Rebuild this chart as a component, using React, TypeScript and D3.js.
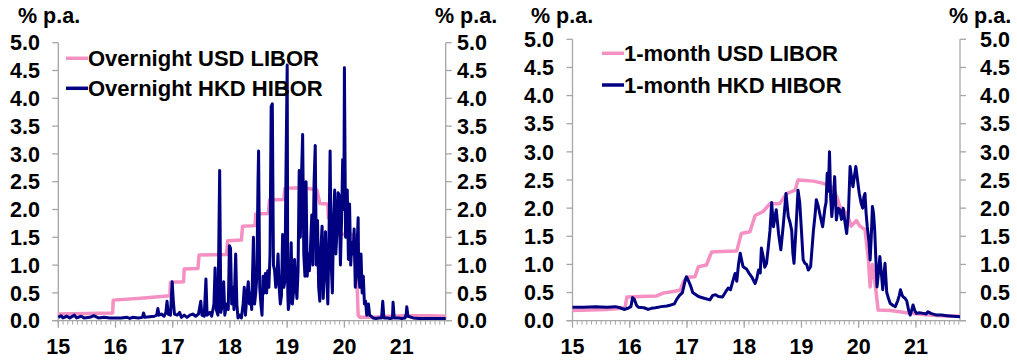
import React from "react";
import * as d3 from "d3";

type Pt = [number, number];

const yTicks = [0, 0.5, 1, 1.5, 2, 2.5, 3, 3.5, 4, 4.5, 5];
const yearTicks = [15, 16, 17, 18, 19, 20, 21];
const yearLabels = ["15", "16", "17", "18", "19", "20", "21"];
const unitLabel = "% p.a.";

const leftLegend = ["Overnight USD LIBOR", "Overnight HKD HIBOR"];
const rightLegend = ["1-month USD LIBOR", "1-month HKD HIBOR"];

const onLibor: Pt[] = [
  [15.0, 0.12], [15.5, 0.13], [15.95, 0.14], [15.96, 0.37], [16.5, 0.41], [16.95, 0.45],
  [16.96, 0.69], [17.19, 0.7], [17.2, 0.93], [17.44, 0.94], [17.46, 1.18], [17.94, 1.19],
  [17.96, 1.44], [18.2, 1.45], [18.22, 1.7], [18.44, 1.71], [18.45, 1.92], [18.67, 1.93],
  [18.69, 2.17], [18.94, 2.18], [18.96, 2.38], [19.3, 2.39], [19.52, 2.35], [19.57, 2.11],
  [19.71, 2.1], [19.72, 1.85], [19.83, 1.85], [19.84, 1.56], [20.17, 1.55], [20.18, 1.08],
  [20.21, 1.0], [20.24, 0.1], [20.27, 0.06], [20.5, 0.06], [20.8, 0.08], [21.0, 0.09],
  [21.5, 0.09], [21.77, 0.08],
];

const onHibor: Pt[] = [
  [15.0, 0.06], [15.05, 0.09], [15.08, 0.05], [15.15, 0.08], [15.2, 0.05], [15.28, 0.1], [15.32, 0.05],
  [15.4, 0.08], [15.45, 0.05], [15.55, 0.06], [15.62, 0.09], [15.7, 0.05], [15.8, 0.06], [15.9, 0.05],
  [16.0, 0.05], [16.1, 0.05], [16.2, 0.06], [16.25, 0.04], [16.3, 0.06], [16.4, 0.05], [16.47, 0.06],
  [16.49, 0.14], [16.51, 0.06], [16.6, 0.07], [16.68, 0.08], [16.72, 0.1], [16.74, 0.22], [16.76, 0.1],
  [16.8, 0.12], [16.85, 0.08], [16.88, 0.15], [16.9, 0.35], [16.92, 0.12], [16.96, 0.1], [16.99, 0.7],
  [17.01, 0.35], [17.03, 0.12], [17.08, 0.1], [17.12, 0.15], [17.15, 0.06], [17.2, 0.1], [17.25, 0.06],
  [17.3, 0.1], [17.35, 0.12], [17.4, 0.08], [17.45, 0.12], [17.49, 0.35], [17.51, 0.1], [17.55, 0.08],
  [17.58, 0.75], [17.6, 0.1], [17.65, 0.15], [17.68, 0.08], [17.72, 0.3], [17.74, 0.95], [17.76, 0.2],
  [17.79, 0.1], [17.82, 2.7], [17.84, 0.15], [17.87, 0.3], [17.89, 0.7], [17.91, 0.1], [17.94, 0.3],
  [17.97, 0.2], [17.99, 1.35], [18.01, 1.3], [18.03, 0.3], [18.05, 0.6], [18.07, 0.2], [18.1, 1.2],
  [18.12, 0.3], [18.14, 0.05], [18.17, 0.1], [18.2, 0.05], [18.23, 0.3], [18.25, 0.6], [18.27, 0.1],
  [18.3, 0.5], [18.32, 0.7], [18.34, 0.3], [18.36, 0.5], [18.38, 0.2], [18.41, 1.5], [18.43, 0.3],
  [18.45, 0.5], [18.47, 0.8], [18.49, 2.5], [18.5, 3.05], [18.52, 0.6], [18.54, 0.3], [18.56, 0.1],
  [18.58, 0.8], [18.6, 0.5], [18.62, 0.85], [18.64, 0.5], [18.66, 0.9], [18.68, 0.6], [18.7, 1.2],
  [18.72, 3.85], [18.74, 3.9], [18.76, 1.0], [18.78, 0.9], [18.8, 0.6], [18.82, 0.8], [18.84, 1.2],
  [18.86, 0.6], [18.88, 0.3], [18.9, 0.45], [18.92, 1.55], [18.94, 0.6], [18.96, 0.7], [18.98, 2.8],
  [19.0, 4.6], [19.01, 0.5], [19.02, 0.2], [19.04, 0.35], [19.07, 1.4], [19.09, 0.3], [19.11, 0.5],
  [19.13, 1.1], [19.15, 0.7], [19.17, 0.4], [19.19, 0.9], [19.21, 2.7], [19.23, 1.5], [19.25, 2.6],
  [19.27, 3.35], [19.29, 1.2], [19.31, 0.8], [19.33, 2.5], [19.35, 0.8], [19.37, 1.2], [19.39, 0.9],
  [19.41, 1.4], [19.43, 1.9], [19.45, 1.0], [19.47, 2.5], [19.49, 3.15], [19.51, 1.0], [19.53, 1.8],
  [19.55, 0.6], [19.57, 0.35], [19.59, 1.3], [19.61, 1.7], [19.63, 0.4], [19.65, 1.0], [19.67, 1.6],
  [19.69, 0.8], [19.71, 0.3], [19.73, 1.5], [19.75, 3.05], [19.77, 1.0], [19.79, 0.5], [19.81, 1.8],
  [19.83, 2.35], [19.85, 1.2], [19.87, 1.6], [19.89, 2.3], [19.91, 2.25], [19.93, 1.0], [19.95, 1.8],
  [19.97, 2.9], [19.99, 2.0], [20.0, 4.55], [20.02, 1.5], [20.03, 2.0], [20.05, 2.35], [20.07, 1.1],
  [20.09, 2.1], [20.11, 1.0], [20.13, 1.4], [20.15, 1.2], [20.17, 1.65], [20.19, 0.6], [20.21, 1.0],
  [20.24, 1.85], [20.25, 0.8], [20.27, 0.6], [20.29, 1.2], [20.31, 0.5], [20.33, 0.8], [20.35, 0.3],
  [20.37, 0.35], [20.39, 0.1], [20.42, 0.3], [20.44, 0.1], [20.47, 0.08], [20.5, 0.05], [20.55, 0.04],
  [20.6, 0.05], [20.65, 0.05], [20.67, 0.35], [20.69, 0.05], [20.75, 0.05], [20.8, 0.04], [20.84, 0.05],
  [20.85, 0.33], [20.87, 0.05], [20.95, 0.05], [21.0, 0.04], [21.06, 0.05], [21.08, 0.12], [21.09, 0.25],
  [21.11, 0.08], [21.2, 0.05], [21.3, 0.04], [21.45, 0.04], [21.6, 0.04], [21.77, 0.04],
];

const m1Libor: Pt[] = [
  [15.0, 0.18], [15.3, 0.19], [15.6, 0.2], [15.85, 0.22], [15.92, 0.24], [15.95, 0.42], [16.2, 0.43],
  [16.47, 0.44], [16.58, 0.49], [16.76, 0.52], [16.88, 0.54], [16.94, 0.7], [17.0, 0.77], [17.14, 0.78],
  [17.2, 0.96], [17.34, 0.99], [17.43, 1.22], [17.6, 1.23], [17.87, 1.24], [17.95, 1.55], [18.1, 1.58],
  [18.19, 1.87], [18.33, 1.94], [18.45, 2.08], [18.62, 2.08], [18.74, 2.26], [18.89, 2.32], [18.94, 2.5],
  [19.21, 2.48], [19.38, 2.44], [19.53, 2.38], [19.62, 2.2], [19.67, 2.03], [19.79, 1.91], [19.87, 1.68],
  [19.96, 1.78], [20.02, 1.68], [20.11, 1.62], [20.17, 1.08], [20.2, 0.6], [20.24, 1.0], [20.28, 0.72],
  [20.34, 0.19], [20.55, 0.18], [20.84, 0.14], [21.13, 0.11], [21.42, 0.09], [21.77, 0.08],
];

const m1Hibor: Pt[] = [
  [15.0, 0.24], [15.2, 0.24], [15.4, 0.25], [15.6, 0.24], [15.75, 0.25], [15.83, 0.23], [15.9, 0.2],
  [15.97, 0.22], [16.02, 0.25], [16.05, 0.41], [16.08, 0.38], [16.12, 0.27], [16.15, 0.24], [16.25, 0.23],
  [16.32, 0.2], [16.38, 0.22], [16.45, 0.23], [16.55, 0.25], [16.65, 0.26], [16.72, 0.28], [16.78, 0.3],
  [16.82, 0.38], [16.87, 0.45], [16.92, 0.5], [16.97, 0.72], [16.99, 0.78], [17.03, 0.7], [17.07, 0.6],
  [17.1, 0.5], [17.2, 0.43], [17.3, 0.4], [17.4, 0.37], [17.45, 0.45], [17.5, 0.46], [17.55, 0.43],
  [17.62, 0.42], [17.68, 0.52], [17.72, 0.58], [17.76, 0.55], [17.8, 0.7], [17.84, 0.84], [17.87, 0.7],
  [17.9, 1.0], [17.93, 1.2], [17.96, 1.05], [17.98, 0.96], [18.04, 0.92], [18.08, 0.85], [18.13, 0.78],
  [18.19, 0.66], [18.22, 0.75], [18.25, 0.9], [18.28, 0.85], [18.3, 1.29], [18.33, 1.15], [18.36, 0.95],
  [18.39, 1.02], [18.42, 1.3], [18.45, 1.6], [18.48, 2.1], [18.51, 1.67], [18.54, 1.85], [18.56, 1.97],
  [18.6, 1.55], [18.64, 1.26], [18.68, 1.67], [18.73, 2.26], [18.77, 1.85], [18.8, 1.75], [18.83, 1.6],
  [18.85, 1.2], [18.87, 1.02], [18.9, 1.55], [18.94, 2.32], [18.97, 2.1], [19.0, 1.6], [19.03, 1.08],
  [19.06, 1.02], [19.09, 1.0], [19.12, 0.9], [19.16, 0.96], [19.21, 1.61], [19.24, 1.9], [19.26, 2.15],
  [19.29, 2.05], [19.32, 1.9], [19.37, 1.67], [19.41, 2.0], [19.43, 2.1], [19.45, 2.62], [19.47, 2.3],
  [19.49, 3.0], [19.51, 2.2], [19.53, 1.85], [19.56, 2.2], [19.58, 2.56], [19.61, 1.79], [19.64, 2.0],
  [19.67, 1.97], [19.7, 1.8], [19.73, 2.0], [19.76, 1.75], [19.79, 1.55], [19.82, 1.9], [19.85, 2.74],
  [19.88, 2.5], [19.9, 2.38], [19.93, 2.6], [19.95, 2.74], [19.98, 2.5], [20.01, 2.26], [20.04, 2.1],
  [20.07, 2.0], [20.09, 2.2], [20.11, 2.26], [20.13, 1.9], [20.15, 1.67], [20.18, 1.4], [20.2, 1.08],
  [20.22, 1.5], [20.24, 2.03], [20.26, 1.9], [20.28, 1.6], [20.3, 1.1], [20.32, 0.6], [20.35, 0.9],
  [20.37, 1.14], [20.4, 0.8], [20.42, 0.55], [20.44, 0.8], [20.46, 1.02], [20.49, 0.5], [20.52, 0.4],
  [20.55, 0.31], [20.6, 0.27], [20.64, 0.25], [20.68, 0.35], [20.71, 0.45], [20.73, 0.55], [20.76, 0.45],
  [20.78, 0.42], [20.81, 0.4], [20.84, 0.35], [20.87, 0.2], [20.9, 0.1], [20.93, 0.2], [20.95, 0.28],
  [20.98, 0.18], [21.01, 0.13], [21.06, 0.14], [21.13, 0.13], [21.18, 0.12], [21.21, 0.16], [21.26, 0.13],
  [21.36, 0.1], [21.45, 0.1], [21.54, 0.09], [21.65, 0.08], [21.77, 0.07],
];

const PINK = "#f590c2";
const NAVY = "#000080";
const AXIS = "#a6a6a6";
const FONT = "'Liberation Sans', Arial, sans-serif";
const X_END = 21.77;

type PanelProps = {
  xStart: number;
  xEnd: number;
  yTop: number;
  yBottom: number;
  libor: Pt[];
  hibor: Pt[];
  legend: string[];
  legendX: number;
  legendY: number[];
  leftLabelRight: number;
  rightLabelLeft: number;
  unitLeftX: number;
  unitRightX: number;
};

function Panel(p: PanelProps) {
  const x = d3.scaleLinear().domain([15, X_END]).range([p.xStart, p.xEnd]);
  const y = d3.scaleLinear().domain([0, 5]).range([p.yBottom, p.yTop]);
  const line = d3
    .line<Pt>()
    .x((d) => x(d[0]))
    .y((d) => y(d[1]));
  const minor = d3.range(0, Math.floor((X_END - 15) * 12) + 1).map((k) => 15 + k / 12);
  const fs = 21.5;
  return (
    <g>
      <line x1={p.xStart} x2={p.xStart} y1={p.yTop} y2={p.yBottom} stroke={AXIS} strokeWidth={1.3} />
      <line x1={p.xEnd} x2={p.xEnd} y1={p.yTop} y2={p.yBottom} stroke={AXIS} strokeWidth={1.3} />
      <line x1={p.xStart - 6} x2={p.xEnd + 6} y1={p.yBottom} y2={p.yBottom} stroke={AXIS} strokeWidth={1.3} />
      {yTicks.map((t) => (
        <g key={"yt" + t}>
          <line x1={p.xStart - 6} x2={p.xStart} y1={y(t)} y2={y(t)} stroke={AXIS} strokeWidth={1.3} />
          <line x1={p.xEnd} x2={p.xEnd + 6} y1={y(t)} y2={y(t)} stroke={AXIS} strokeWidth={1.3} />
          <text x={p.leftLabelRight} y={y(t)} dy="0.36em" textAnchor="end" fontFamily={FONT} fontWeight="bold" fontSize={fs}>
            {t.toFixed(1)}
          </text>
          <text x={p.rightLabelLeft} y={y(t)} dy="0.36em" textAnchor="start" fontFamily={FONT} fontWeight="bold" fontSize={fs}>
            {t.toFixed(1)}
          </text>
        </g>
      ))}
      {minor.map((m, i) => (
        <line key={"mn" + i} x1={x(m)} x2={x(m)} y1={p.yBottom} y2={p.yBottom + 4} stroke={AXIS} strokeWidth={1} />
      ))}
      {yearTicks.map((t, i) => (
        <g key={"xt" + t}>
          <line x1={x(t)} x2={x(t)} y1={p.yBottom} y2={p.yBottom + 7} stroke={AXIS} strokeWidth={1.3} />
          <text x={x(t)} y={p.yBottom + 26} dy="0.36em" textAnchor="middle" fontFamily={FONT} fontWeight="bold" fontSize={fs}>
            {yearLabels[i]}
          </text>
        </g>
      ))}
      <text x={p.unitLeftX} y={23} fontFamily={FONT} fontWeight="bold" fontSize={fs}>{unitLabel}</text>
      <text x={p.unitRightX} y={23} fontFamily={FONT} fontWeight="bold" fontSize={fs}>{unitLabel}</text>
      <path d={line(p.libor) || ""} fill="none" stroke={PINK} strokeWidth={3.5} strokeLinejoin="round" />
      <path d={line(p.hibor) || ""} fill="none" stroke={NAVY} strokeWidth={3} strokeLinejoin="round" />
      {p.legend.map((name, i) => (
        <g key={"lg" + i}>
          <line x1={p.legendX - 22} x2={p.legendX} y1={p.legendY[i]} y2={p.legendY[i]} stroke={i === 0 ? PINK : NAVY} strokeWidth={3.5} />
          <text x={p.legendX} y={p.legendY[i]} dy="0.36em" fontFamily={FONT} fontWeight="bold" fontSize={22}>
            {name}
          </text>
        </g>
      ))}
    </g>
  );
}

export default function App() {
  return (
    <svg width={1017} height={363} style={{ position: "absolute", left: 0, top: 0, background: "#fff" }}>
      <Panel
        xStart={58.3}
        xEnd={445.7}
        yTop={42.7}
        yBottom={320.7}
        libor={onLibor}
        hibor={onHibor}
        legend={leftLegend}
        legendX={88}
        legendY={[58.3, 88.3]}
        leftLabelRight={40}
        rightLabelLeft={457}
        unitLeftX={18}
        unitRightX={435}
      />
      <Panel
        xStart={572.5}
        xEnd={960}
        yTop={39.3}
        yBottom={320.7}
        libor={m1Libor}
        hibor={m1Hibor}
        legend={rightLegend}
        legendX={624}
        legendY={[53.3, 85]}
        leftLabelRight={554}
        rightLabelLeft={980}
        unitLeftX={531}
        unitRightX={949}
      />
    </svg>
  );
}
